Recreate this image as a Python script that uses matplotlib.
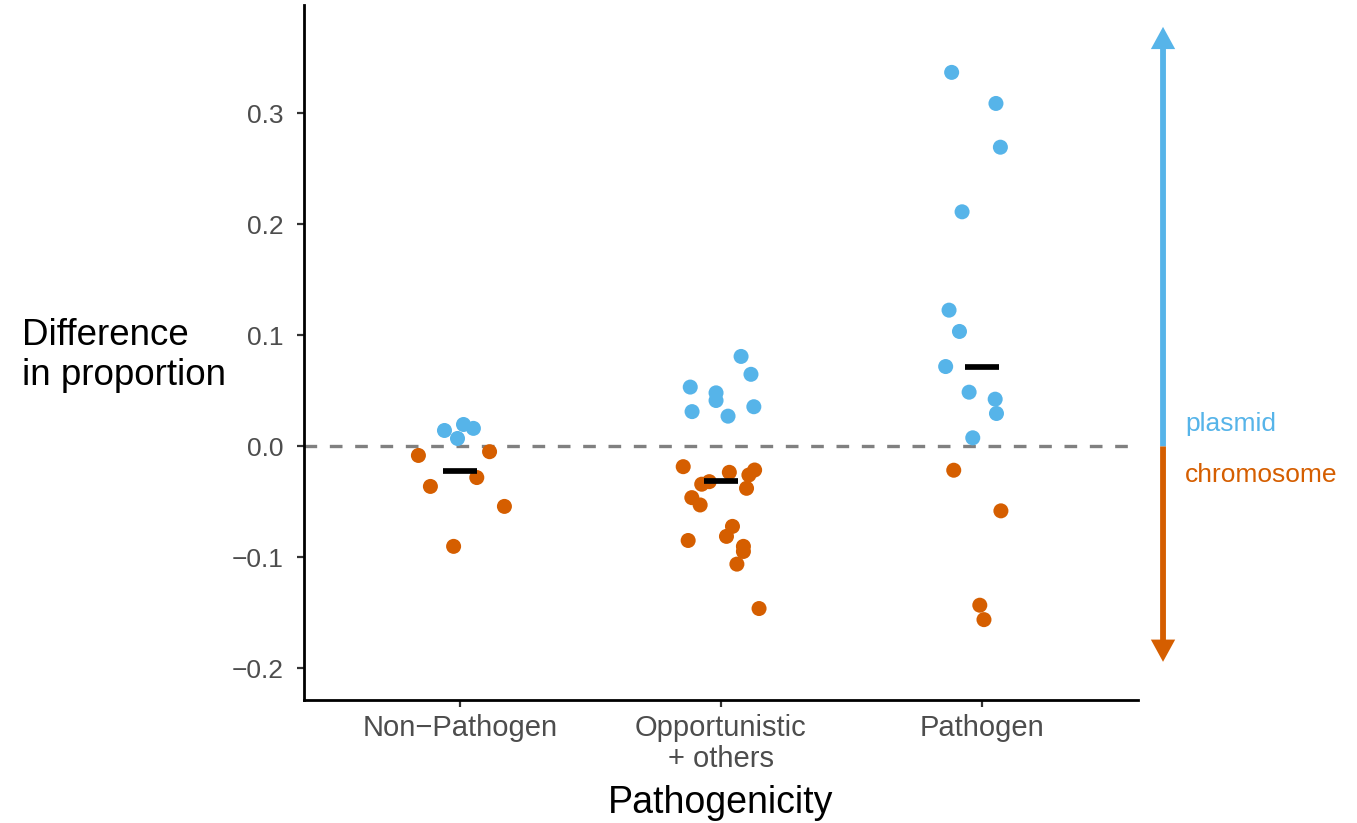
import matplotlib
matplotlib.use("Agg")
import matplotlib.pyplot as plt

plt.rcParams['font.family'] = ['Liberation Sans', 'DejaVu Sans']

categories = ["Non\u2212Pathogen", "Opportunistic\n+ others", "Pathogen"]

# plasmid (positive) points: x (jittered category position), y
plasmid_x = [0.939, 0.989, 1.012, 1.050,
             2.077, 2.115, 1.882, 1.981, 1.981, 1.889, 2.027, 2.126,
             2.885, 3.055, 3.072, 2.925, 2.875, 2.915, 2.862, 2.952, 3.052, 3.057, 2.966]
plasmid_y = [0.0144, 0.0072, 0.0198, 0.0163,
             0.0811, 0.0650, 0.0535, 0.0483, 0.0414, 0.0314, 0.0273, 0.0358,
             0.337, 0.309, 0.2696, 0.2114, 0.1228, 0.1036, 0.072, 0.0489, 0.0426, 0.0297, 0.0078]

# chromosome (negative) points
chrom_x = [0.839, 1.112, 0.885, 1.063, 1.169, 0.974,
           1.855, 2.032, 2.129, 2.107, 2.098, 1.955, 1.926, 1.888, 1.920,
           2.044, 2.021, 1.874, 2.086, 2.086, 2.061, 2.146,
           2.893, 3.074, 2.993, 3.009]
chrom_y = [-0.0081, -0.0047, -0.036, -0.028, -0.054, -0.090,
           -0.0182, -0.0233, -0.0212, -0.0257, -0.0377, -0.0317, -0.034, -0.0461, -0.0527,
           -0.072, -0.081, -0.0847, -0.090, -0.0946, -0.106, -0.146,
           -0.0214, -0.058, -0.143, -0.156]

# summary bars per category
center_x = [1.0, 2.0, 3.0]
center_y = [-0.0225, -0.0311, 0.0716]

yticks = [-0.2, -0.1, 0.0, 0.1, 0.2, 0.3]
ytick_labels = ["\u22120.2", "\u22120.1", "0.0", "0.1", "0.2", "0.3"]

blue = "#56B4E9"
orange = "#D55E00"

fig = plt.figure(figsize=(13.57, 8.23), dpi=100)
ax = fig.add_axes([304/1357, 1-700/823, (1138-304)/1357, (700-5)/823])

ax.set_xlim(0.4, 3.6)
ax.set_ylim(-0.2284, 0.3977)

ax.axhline(0, color="#808080", lw=2.4, ls=(0, (3.8, 3.8)), zorder=1)

ax.scatter(chrom_x, chrom_y, s=117, color=orange, edgecolors='none', zorder=3)
ax.scatter(plasmid_x, plasmid_y, s=117, color=blue, edgecolors='none', zorder=3)

ax.hlines(center_y, [c - 0.065 for c in center_x], [c + 0.065 for c in center_x],
          color="black", lw=4.1, zorder=4, capstyle='butt')

# side arrows
arrow_x = 3.696
astyle = 'simple,head_length=1.6,head_width=1.75,tail_width=0.42'
ax.annotate('', xy=(arrow_x, 0.378), xytext=(arrow_x, 0.0),
            arrowprops=dict(arrowstyle=astyle, mutation_scale=10, facecolor=blue,
                            edgecolor='none', lw=0, shrinkA=0, shrinkB=0),
            annotation_clip=False)
ax.annotate('', xy=(arrow_x, -0.194), xytext=(arrow_x, 0.0),
            arrowprops=dict(arrowstyle=astyle, mutation_scale=10, facecolor=orange,
                            edgecolor='none', lw=0, shrinkA=0, shrinkB=0),
            annotation_clip=False)
ax.text(3.781, 0.020, "plasmid", color=blue, fontsize=19, ha='left', va='center', clip_on=False)
ax.text(3.781, -0.0257, "chromosome", color=orange, fontsize=19, ha='left', va='center', clip_on=False)

ax.set_xticks(center_x)
ax.set_xticklabels(categories, fontsize=21, color="#4D4D4D", linespacing=1.15)
ax.set_yticks(yticks)
ax.set_yticklabels(ytick_labels, fontsize=19, color="#4D4D4D")
ax.tick_params(axis='x', length=5, width=1.6, color="#333333", pad=5)
ax.tick_params(axis='y', length=5, width=1.6, color="#333333", pad=9.5)

for s in ['top', 'right']:
    ax.spines[s].set_visible(False)
for s in ['left', 'bottom']:
    ax.spines[s].set_linewidth(2)
    ax.spines[s].set_color('black')

ax.set_xlabel("Pathogenicity", fontsize=27, color='black')
ax.xaxis.set_label_coords(0.5, -0.148)
ax.xaxis.label.set_va('center')
ax.set_ylabel("Difference\nin proportion", fontsize=26.5, color='black', rotation=0,
              ha='center', va='center', linespacing=1.2, multialignment='left')
ax.yaxis.set_label_coords(-0.2155, 0.496)

fig.savefig("out.png", dpi=100)
